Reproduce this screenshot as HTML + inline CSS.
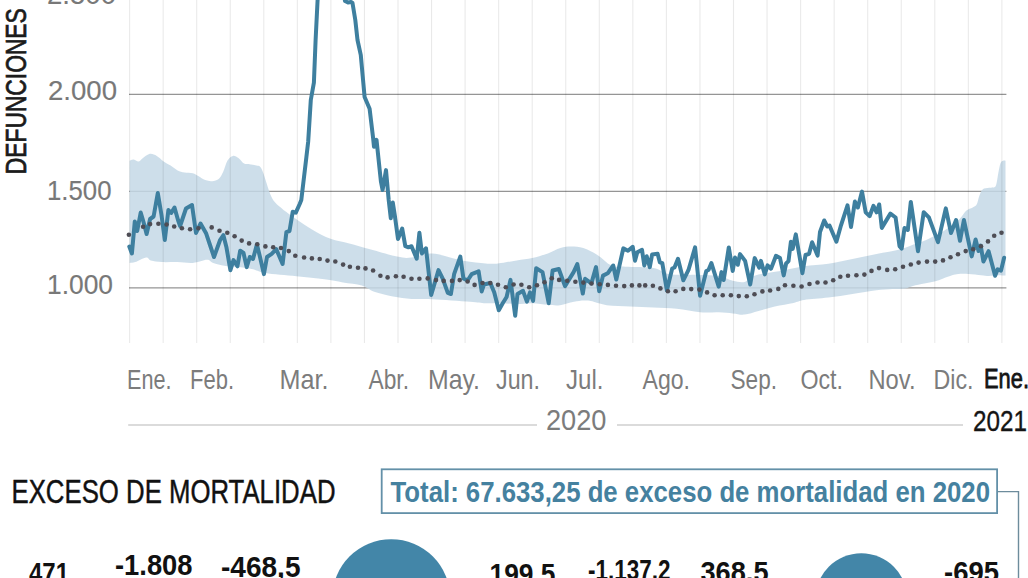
<!DOCTYPE html>
<html><head><meta charset="utf-8"><style>
html,body{margin:0;padding:0;background:#fff;width:1028px;height:578px;overflow:hidden}
svg{position:absolute;left:0;top:0;display:block}
text{font-family:"Liberation Sans",sans-serif}
</style></head><body>
<svg width="1028" height="578" viewBox="0 0 1028 578">
<g stroke="#959595" stroke-width="1.25"><line x1="129" y1="-1.3" x2="1006.4" y2="-1.3" /><line x1="129" y1="94.4" x2="1006.4" y2="94.4" /><line x1="129" y1="191.4" x2="1006.4" y2="191.4" /><line x1="129" y1="287.8" x2="1006.4" y2="287.8" /></g>
<path d="M129.60,160.70 C130.22,160.48 131.77,159.28 133.30,159.40 C134.83,159.52 137.18,161.63 138.80,161.40 C140.42,161.17 141.15,159.27 143.00,158.00 C144.85,156.73 147.60,154.15 149.90,153.80 C152.20,153.45 154.50,154.63 156.80,155.90 C159.10,157.17 161.40,159.78 163.70,161.40 C166.00,163.02 168.28,164.10 170.60,165.60 C172.92,167.10 175.28,169.25 177.60,170.40 C179.92,171.55 181.97,172.03 184.50,172.50 C187.03,172.97 190.50,172.62 192.80,173.20 C195.10,173.78 196.23,174.85 198.30,176.00 C200.37,177.15 202.90,179.23 205.20,180.10 C207.50,180.97 209.80,181.43 212.10,181.20 C214.40,180.97 217.15,180.27 219.00,178.70 C220.85,177.13 221.80,174.80 223.20,171.80 C224.60,168.80 225.78,163.35 227.40,160.70 C229.02,158.05 231.07,156.35 232.90,155.90 C234.73,155.45 236.55,156.73 238.40,158.00 C240.25,159.27 242.15,162.47 244.00,163.50 C245.85,164.53 247.43,163.85 249.50,164.20 C251.57,164.55 254.32,164.68 256.40,165.60 C258.48,166.52 259.50,164.52 262.00,169.70 C264.50,174.88 268.27,190.38 271.40,196.70 C274.53,203.02 277.17,204.22 280.80,207.60 C284.43,210.98 288.00,213.37 293.20,217.00 C298.40,220.63 305.77,225.77 312.00,229.40 C318.23,233.03 324.38,236.45 330.60,238.80 C336.82,241.15 342.73,241.75 349.30,243.50 C355.87,245.25 362.05,247.12 370.00,249.30 C377.95,251.48 390.08,255.22 397.00,256.60 C403.92,257.98 405.62,258.12 411.50,257.60 C417.38,257.08 423.65,252.97 432.30,253.50 C440.95,254.03 454.52,259.13 463.40,260.80 C472.28,262.47 479.83,263.05 485.60,263.50 C491.37,263.95 492.82,264.02 498.00,263.50 C503.18,262.98 510.98,261.32 516.70,260.40 C522.42,259.48 527.10,259.17 532.30,258.00 C537.50,256.83 543.22,255.08 547.90,253.40 C552.58,251.72 556.50,249.07 560.40,247.90 C564.30,246.73 567.48,246.38 571.30,246.40 C575.12,246.42 578.95,246.57 583.30,248.00 C587.65,249.43 592.72,252.08 597.40,255.00 C602.08,257.92 606.73,263.55 611.40,265.50 C616.07,267.45 618.40,266.30 625.40,266.70 C632.40,267.10 646.40,266.73 653.40,267.90 C660.40,269.07 662.35,272.53 667.40,273.70 C672.45,274.87 678.25,274.70 683.70,274.90 C689.15,275.10 694.25,274.72 700.10,274.90 C705.95,275.08 713.35,275.03 718.80,276.00 C724.25,276.97 728.52,279.72 732.80,280.70 C737.08,281.68 741.00,282.68 744.50,281.90 C748.00,281.12 749.53,277.57 753.80,276.00 C758.07,274.43 765.05,273.47 770.10,272.50 C775.15,271.53 778.43,271.25 784.10,270.20 C789.77,269.15 796.73,267.27 804.10,266.20 C811.47,265.13 820.25,265.00 828.30,263.80 C836.35,262.60 844.37,260.62 852.40,259.00 C860.43,257.38 868.47,255.72 876.50,254.10 C884.53,252.48 894.02,251.07 900.60,249.30 C907.18,247.53 911.93,244.97 916.00,243.50 C920.07,242.03 921.12,242.15 925.00,240.50 C928.88,238.85 935.47,235.68 939.30,233.60 C943.13,231.52 944.62,230.43 948.00,228.00 C951.38,225.57 956.58,221.87 959.60,219.00 C962.62,216.13 963.92,212.72 966.10,210.80 C968.28,208.88 970.92,208.60 972.70,207.50 C974.48,206.40 975.70,206.12 976.80,204.20 C977.90,202.28 978.33,198.47 979.30,196.00 C980.27,193.53 980.97,190.77 982.60,189.40 C984.23,188.03 987.05,188.20 989.10,187.80 C991.15,187.40 993.62,187.97 994.90,187.00 C996.18,186.03 996.22,184.42 996.80,182.00 C997.38,179.58 997.77,175.65 998.40,172.50 C999.03,169.35 999.82,165.07 1000.60,163.10 C1001.38,161.13 1002.28,161.10 1003.10,160.70 C1003.92,160.30 1005.10,160.70 1005.50,160.70 L1005.50,275.50 C1004.18,275.45 1000.38,275.13 997.60,275.20 C994.82,275.27 991.53,275.90 988.80,275.90 C986.07,275.90 984.58,275.52 981.20,275.20 C977.82,274.88 972.30,274.20 968.50,274.00 C964.70,273.80 961.13,273.80 958.40,274.00 C955.67,274.20 954.63,274.47 952.10,275.20 C949.57,275.93 946.15,277.33 943.20,278.40 C940.25,279.47 937.55,280.75 934.40,281.60 C931.25,282.45 927.88,282.77 924.30,283.50 C920.72,284.23 916.07,285.17 912.90,286.00 C909.73,286.83 908.68,287.98 905.30,288.50 C901.92,289.02 897.40,288.80 892.60,289.10 C887.80,289.40 883.20,289.50 876.50,290.30 C869.80,291.10 860.43,292.68 852.40,293.90 C844.37,295.12 836.35,296.58 828.30,297.60 C820.25,298.62 809.90,299.12 804.10,300.00 C798.30,300.88 798.38,301.83 793.50,302.90 C788.62,303.97 780.63,305.05 774.80,306.40 C768.97,307.75 763.55,309.63 758.50,311.00 C753.45,312.37 748.78,314.20 744.50,314.60 C740.22,315.00 737.08,313.80 732.80,313.40 C728.52,313.00 724.25,312.40 718.80,312.20 C713.35,312.00 707.12,312.78 700.10,312.20 C693.08,311.62 684.48,309.47 676.70,308.70 C668.92,307.93 661.18,307.98 653.40,307.60 C645.62,307.22 637.78,306.80 630.00,306.40 C622.22,306.00 613.70,306.17 606.70,305.20 C599.70,304.23 593.45,301.18 588.00,300.60 C582.55,300.02 578.67,300.93 574.00,301.70 C569.33,302.47 564.35,304.68 560.00,305.20 C555.65,305.72 552.52,305.13 547.90,304.80 C543.28,304.47 537.50,303.33 532.30,303.20 C527.10,303.07 521.88,304.00 516.70,304.00 C511.52,304.00 506.38,303.33 501.20,303.20 C496.02,303.07 490.80,303.45 485.60,303.20 C480.40,302.95 478.88,302.37 470.00,301.70 C461.12,301.03 442.03,299.67 432.30,299.20 C422.57,298.73 418.15,299.37 411.60,298.90 C405.05,298.43 399.23,297.60 393.00,296.40 C386.77,295.20 379.40,293.52 374.20,291.70 C369.00,289.88 367.00,287.05 361.80,285.50 C356.60,283.95 349.23,283.43 343.00,282.40 C336.77,281.37 332.18,280.33 324.40,279.30 C316.62,278.27 306.17,277.25 296.30,276.20 C286.43,275.15 272.98,274.30 265.20,273.00 C257.42,271.70 256.18,269.57 249.60,268.40 C243.02,267.23 231.77,266.92 225.70,266.00 C219.63,265.08 216.32,263.93 213.20,262.90 C210.08,261.87 210.37,259.80 207.00,259.80 C203.63,259.80 197.93,262.52 193.00,262.90 C188.07,263.28 182.60,262.23 177.40,262.10 C172.20,261.97 166.22,262.37 161.80,262.10 C157.38,261.83 153.50,261.28 150.90,260.50 C148.30,259.72 148.80,257.13 146.20,257.40 C143.60,257.67 138.07,261.17 135.30,262.10 C132.53,263.03 130.55,262.85 129.60,263.00 Z" fill="#c4d8e6" fill-opacity="0.85"/>
<g stroke="#000" stroke-opacity="0.085" stroke-width="1.1"><line x1="129.60" y1="0" x2="129.60" y2="343" /><line x1="163.15" y1="0" x2="163.15" y2="343" /><line x1="196.70" y1="0" x2="196.70" y2="343" /><line x1="230.25" y1="0" x2="230.25" y2="343" /><line x1="263.80" y1="0" x2="263.80" y2="343" /><line x1="297.35" y1="0" x2="297.35" y2="343" /><line x1="330.90" y1="0" x2="330.90" y2="343" /><line x1="364.45" y1="0" x2="364.45" y2="343" /><line x1="398.00" y1="0" x2="398.00" y2="343" /><line x1="431.55" y1="0" x2="431.55" y2="343" /><line x1="465.10" y1="0" x2="465.10" y2="343" /><line x1="498.65" y1="0" x2="498.65" y2="343" /><line x1="532.20" y1="0" x2="532.20" y2="343" /><line x1="565.75" y1="0" x2="565.75" y2="343" /><line x1="599.30" y1="0" x2="599.30" y2="343" /><line x1="632.85" y1="0" x2="632.85" y2="343" /><line x1="666.40" y1="0" x2="666.40" y2="343" /><line x1="699.95" y1="0" x2="699.95" y2="343" /><line x1="733.50" y1="0" x2="733.50" y2="343" /><line x1="767.05" y1="0" x2="767.05" y2="343" /><line x1="800.60" y1="0" x2="800.60" y2="343" /><line x1="834.15" y1="0" x2="834.15" y2="343" /><line x1="867.70" y1="0" x2="867.70" y2="343" /><line x1="901.25" y1="0" x2="901.25" y2="343" /><line x1="934.80" y1="0" x2="934.80" y2="343" /><line x1="968.35" y1="0" x2="968.35" y2="343" /><line x1="1001.90" y1="0" x2="1001.90" y2="343" /></g>
<polyline points="129.3,246.5 131.9,253.5 134.8,221.5 137.2,231 140.7,212.5 143.5,222 146.6,234 150.1,219 153.6,216.5 157.8,193 161.5,215 164.8,240 168.4,210 171.2,213 174.5,207.5 178,220 180.1,226 186,208.5 192,205 196,233 200.5,223.5 206.2,233.6 210,245 214,257 220.2,239.8 223.4,235.2 226.5,247.6 230.4,270.2 233.5,260.1 237.4,266.3 240.2,250.7 243.5,253 246.7,267.1 249.8,257 253,259 256.9,244.5 260,257 263.9,274.1 267,257 271.7,253.9 276.3,249.2 282.6,264 286.4,232.1 289.5,231 292.7,211.8 295.8,212.6 299.7,204 301.3,200 306.4,157.1 308.2,141.5 310.8,100 313.9,82.7 315.6,40 317.6,0 318.6,-6 344,-6 345,1 348,2.5 351,2 352.5,3 355.3,20 357.5,40 360.8,55.2 362.7,76.1 364.6,97 369.6,108.7 373.1,138.1 374,146.7 376.5,139.8 380.9,181.4 382.6,190 386,170.1 388.7,200 390.8,218.2 392.8,202.6 394.9,216.1 398,239 402.2,228.6 405.3,246.2 408.4,247.3 411.5,246.2 416.7,258.7 419.4,232.7 421.9,253.5 426,248.3 431.2,295 438.5,270.1 442.6,278.4 447.8,292.9 450.9,294 454.1,274.2 460.3,256.6 463.4,278.4 467.6,280.5 471.7,274.2 478.6,271.3 481.7,291.5 484,284.5 490.3,283 494.2,292.3 498.8,310.2 502.7,303.2 506.6,297 510.5,279.9 515.2,315.7 517.5,293.9 523,290.8 526.9,301.7 530,292.3 533.1,300.9 536.2,268.2 542.5,272.1 548.7,303.2 552.6,270.5 558.8,269 565,286.1 573.6,272.1 577.3,264 582.8,293.6 585.1,278.8 591.4,283.4 596,267.1 599.2,291.2 603,275.6 607.7,273.3 613.2,265.5 616.3,279.5 623.3,248.4 628,250.7 632.7,246.8 635,260.8 637.3,252.3 642,249.9 644.3,265.5 646.7,256.2 649.8,267.1 652.1,254.6 657.6,253.8 659.9,262.4 662.3,263.2 666.9,290.4 672.2,268.5 674.5,267.5 678,258.8 683.3,280.3 688.4,270.2 695.1,247.4 700.1,295.7 706.3,271 708.5,270 711.4,263.1 718.7,286.7 721.5,272.1 723.7,280 728.8,247.4 732.7,271 735,257.5 737.8,264.8 740,254.1 745.1,260.9 750.2,284.5 754.7,258.1 759.2,267.6 760.9,260.9 764.8,274.4 767.6,265.4 771,268.7 776,255.8 780,258.1 783.7,275.4 786.1,263.5 788.5,261.1 790.9,241.7 792.7,248.9 795.8,234.4 802.4,273.2 805.5,255 809.1,253.8 812.1,242.3 817.6,255.6 820,232 824.2,220.5 827.3,226.5 829.5,225.5 836.4,241.7 841,225.3 847.5,205.3 851,227 854.9,201.6 857.9,207.5 862,191.6 865.7,212.3 869.6,216.2 873.5,205.8 876.6,212.3 879.2,204.5 881.8,227.9 890.4,213.6 895.6,217.5 899.5,246.1 901.7,248.6 904.5,228 907.8,230 910.8,201.9 918,251.2 923.7,212.3 928.9,217.4 938,242.1 945.8,208.4 951,233 956.1,220 960,240.8 963.9,220 971.7,256.4 975.6,239.5 978.5,251 980.7,245.5 983.4,261.5 988.6,251.2 995.1,275.8 997.7,269.3 1001,270.6 1004.1,257.7" fill="none" stroke="#3e7f9f" stroke-width="4" stroke-linejoin="round" stroke-linecap="round"/>
<g fill="#4e4d55"><circle cx="128.9" cy="234.7" r="2.3"/><circle cx="143.1" cy="226.8" r="2.3"/><circle cx="150.1" cy="224.1" r="2.3"/><circle cx="158.4" cy="223.8" r="2.3"/><circle cx="166.6" cy="224.5" r="2.3"/><circle cx="174.2" cy="226.5" r="2.3"/><circle cx="181.9" cy="228.2" r="2.3"/><circle cx="190.1" cy="229.2" r="2.3"/><circle cx="198.4" cy="228.2" r="2.3"/><circle cx="211.7" cy="227.4" r="2.3"/><circle cx="219.5" cy="230.8" r="2.3"/><circle cx="227.3" cy="232.8" r="2.3"/><circle cx="234.6" cy="236.3" r="2.3"/><circle cx="241.7" cy="240.6" r="2.3"/><circle cx="249.1" cy="243.4" r="2.3"/><circle cx="257.3" cy="244.2" r="2.3"/><circle cx="265.4" cy="246.4" r="2.3"/><circle cx="273.2" cy="247.3" r="2.3"/><circle cx="281" cy="248" r="2.3"/><circle cx="288.8" cy="251.1" r="2.3"/><circle cx="295.3" cy="255.7" r="2.3"/><circle cx="304.1" cy="257.5" r="2.3"/><circle cx="311.9" cy="258.4" r="2.3"/><circle cx="319.7" cy="259" r="2.3"/><circle cx="327.5" cy="260.6" r="2.3"/><circle cx="335.3" cy="261.5" r="2.3"/><circle cx="343.1" cy="264.6" r="2.3"/><circle cx="349.9" cy="266.8" r="2.3"/><circle cx="358" cy="267.8" r="2.3"/><circle cx="365.5" cy="268.4" r="2.3"/><circle cx="373.1" cy="270.5" r="2.3"/><circle cx="380.4" cy="275.7" r="2.3"/><circle cx="387.6" cy="277.4" r="2.3"/><circle cx="395.9" cy="276.3" r="2.3"/><circle cx="403.6" cy="276.7" r="2.3"/><circle cx="411.5" cy="278.8" r="2.3"/><circle cx="419.4" cy="278.8" r="2.3"/><circle cx="427.7" cy="278.4" r="2.3"/><circle cx="436" cy="280.1" r="2.3"/><circle cx="443.7" cy="280.9" r="2.3"/><circle cx="452" cy="280.9" r="2.3"/><circle cx="459.7" cy="280.1" r="2.3"/><circle cx="467.6" cy="281.5" r="2.3"/><circle cx="474.6" cy="284.9" r="2.3"/><circle cx="482.5" cy="283" r="2.3"/><circle cx="490.3" cy="283" r="2.3"/><circle cx="498" cy="284.8" r="2.3"/><circle cx="505.8" cy="287.3" r="2.3"/><circle cx="513.6" cy="284.5" r="2.3"/><circle cx="521.4" cy="284.8" r="2.3"/><circle cx="529.2" cy="287.3" r="2.3"/><circle cx="537" cy="285.3" r="2.3"/><circle cx="544.5" cy="282.2" r="2.3"/><circle cx="551.8" cy="278.3" r="2.3"/><circle cx="559.1" cy="279.9" r="2.3"/><circle cx="567.2" cy="280.7" r="2.3"/><circle cx="575.4" cy="281.8" r="2.3"/><circle cx="583.3" cy="282.6" r="2.3"/><circle cx="591.5" cy="283.5" r="2.3"/><circle cx="599.7" cy="284.2" r="2.3"/><circle cx="607.9" cy="284.9" r="2.3"/><circle cx="616" cy="285.8" r="2.3"/><circle cx="624.2" cy="286.1" r="2.3"/><circle cx="631.9" cy="285.4" r="2.3"/><circle cx="639.4" cy="285.4" r="2.3"/><circle cx="645.2" cy="285.4" r="2.3"/><circle cx="652.9" cy="285.8" r="2.3"/><circle cx="660.4" cy="288.4" r="2.3"/><circle cx="667.9" cy="291.2" r="2.3"/><circle cx="675.6" cy="291.2" r="2.3"/><circle cx="683.3" cy="288.9" r="2.3"/><circle cx="691.2" cy="289.1" r="2.3"/><circle cx="699.4" cy="289.6" r="2.3"/><circle cx="707.1" cy="292.4" r="2.3"/><circle cx="714.6" cy="295.2" r="2.3"/><circle cx="722.7" cy="295.2" r="2.3"/><circle cx="730.9" cy="295.2" r="2.3"/><circle cx="738.8" cy="296.1" r="2.3"/><circle cx="746.8" cy="296.3" r="2.3"/><circle cx="754.5" cy="294.2" r="2.3"/><circle cx="762.4" cy="291.4" r="2.3"/><circle cx="770.1" cy="290.5" r="2.3"/><circle cx="778.3" cy="288.9" r="2.3"/><circle cx="785" cy="285.2" r="2.3"/><circle cx="793.4" cy="285.8" r="2.3"/><circle cx="801.6" cy="286.5" r="2.3"/><circle cx="809.5" cy="284" r="2.3"/><circle cx="817.5" cy="282.5" r="2.3"/><circle cx="825.5" cy="282.5" r="2.3"/><circle cx="833.2" cy="280.3" r="2.3"/><circle cx="840.3" cy="276.7" r="2.3"/><circle cx="848" cy="275.7" r="2.3"/><circle cx="856.4" cy="275.3" r="2.3"/><circle cx="864.4" cy="274.6" r="2.3"/><circle cx="871.5" cy="270.9" r="2.3"/><circle cx="879" cy="268.1" r="2.3"/><circle cx="887.2" cy="269.9" r="2.3"/><circle cx="895.2" cy="269.2" r="2.3"/><circle cx="903" cy="266.8" r="2.3"/><circle cx="910.8" cy="264.5" r="2.3"/><circle cx="918.6" cy="262.6" r="2.3"/><circle cx="927" cy="261.6" r="2.3"/><circle cx="935.2" cy="261.6" r="2.3"/><circle cx="943" cy="260.4" r="2.3"/><circle cx="950.5" cy="257.3" r="2.3"/><circle cx="958" cy="254.2" r="2.3"/><circle cx="965.7" cy="251.1" r="2.3"/><circle cx="973.2" cy="249.2" r="2.3"/><circle cx="981" cy="246.2" r="2.3"/><circle cx="988" cy="241.4" r="2.3"/><circle cx="994.2" cy="235.8" r="2.3"/><circle cx="1001.5" cy="232.7" r="2.3"/></g>
<text x="47.00" y="3.50" font-size="27" font-weight="normal" fill="#787878" stroke="#787878" stroke-width="0.15" textLength="69.00" lengthAdjust="spacingAndGlyphs">2.500</text><text x="48.00" y="100.00" font-size="27" font-weight="normal" fill="#787878" stroke="#787878" stroke-width="0.15" textLength="69.00" lengthAdjust="spacingAndGlyphs">2.000</text><text x="47.00" y="199.50" font-size="27" font-weight="normal" fill="#787878" stroke="#787878" stroke-width="0.15" textLength="64.50" lengthAdjust="spacingAndGlyphs">1.500</text><text x="47.00" y="294.00" font-size="27" font-weight="normal" fill="#787878" stroke="#787878" stroke-width="0.15" textLength="66.00" lengthAdjust="spacingAndGlyphs">1.000</text><text x="127.00" y="389.00" font-size="28" font-weight="normal" fill="#7c7c7c" textLength="44.50" lengthAdjust="spacingAndGlyphs">Ene.</text><text x="190.00" y="389.00" font-size="28" font-weight="normal" fill="#7c7c7c" textLength="44.00" lengthAdjust="spacingAndGlyphs">Feb.</text><text x="279.50" y="389.00" font-size="28" font-weight="normal" fill="#7c7c7c" textLength="49.00" lengthAdjust="spacingAndGlyphs">Mar.</text><text x="368.50" y="389.00" font-size="28" font-weight="normal" fill="#7c7c7c" textLength="40.50" lengthAdjust="spacingAndGlyphs">Abr.</text><text x="428.00" y="388.60" font-size="28" font-weight="normal" fill="#7c7c7c" textLength="52.00" lengthAdjust="spacingAndGlyphs">May.</text><text x="496.00" y="389.00" font-size="28" font-weight="normal" fill="#7c7c7c" textLength="44.00" lengthAdjust="spacingAndGlyphs">Jun.</text><text x="566.00" y="389.00" font-size="28" font-weight="normal" fill="#7c7c7c" textLength="37.50" lengthAdjust="spacingAndGlyphs">Jul.</text><text x="642.50" y="388.60" font-size="28" font-weight="normal" fill="#7c7c7c" textLength="47.50" lengthAdjust="spacingAndGlyphs">Ago.</text><text x="730.50" y="388.60" font-size="28" font-weight="normal" fill="#7c7c7c" textLength="46.50" lengthAdjust="spacingAndGlyphs">Sep.</text><text x="800.50" y="389.00" font-size="28" font-weight="normal" fill="#7c7c7c" textLength="42.50" lengthAdjust="spacingAndGlyphs">Oct.</text><text x="868.50" y="389.00" font-size="28" font-weight="normal" fill="#7c7c7c" textLength="47.00" lengthAdjust="spacingAndGlyphs">Nov.</text><text x="933.50" y="389.00" font-size="28" font-weight="normal" fill="#7c7c7c" textLength="40.00" lengthAdjust="spacingAndGlyphs">Dic.</text><text x="984.00" y="388.00" font-size="28.4" font-weight="normal" fill="#151515" stroke="#151515" stroke-width="0.8" textLength="45.00" lengthAdjust="spacingAndGlyphs">Ene.</text><text x="546.00" y="430.00" font-size="30" font-weight="normal" fill="#7c7c7c" textLength="60.50" lengthAdjust="spacingAndGlyphs">2020</text><text x="973.00" y="430.50" font-size="30" font-weight="normal" fill="#151515" stroke="#151515" stroke-width="0.35" textLength="54.00" lengthAdjust="spacingAndGlyphs">2021</text><text x="11.50" y="503.00" font-size="32.8" font-weight="normal" fill="#111111" stroke="#111111" stroke-width="0.45" textLength="324.00" lengthAdjust="spacingAndGlyphs">EXCESO DE MORTALIDAD</text><text x="390.50" y="501.80" font-size="29" font-weight="bold" fill="#45819f" textLength="599.50" lengthAdjust="spacingAndGlyphs">Total: 67.633,25 de exceso de mortalidad en 2020</text><text x="29.00" y="582.52" font-size="28.6" font-weight="bold" fill="#111111" textLength="40.00" lengthAdjust="spacingAndGlyphs">471</text><text x="115.00" y="574.52" font-size="28.6" font-weight="bold" fill="#111111" textLength="77.50" lengthAdjust="spacingAndGlyphs">-1.808</text><text x="221.00" y="576.52" font-size="28.6" font-weight="bold" fill="#111111" textLength="79.50" lengthAdjust="spacingAndGlyphs">-468,5</text><text x="489.50" y="584.02" font-size="28.6" font-weight="bold" fill="#111111" textLength="66.00" lengthAdjust="spacingAndGlyphs">199,5</text><text x="588.00" y="579.52" font-size="28.6" font-weight="bold" fill="#111111" textLength="82.50" lengthAdjust="spacingAndGlyphs">-1.137,2</text><text x="700.50" y="582.02" font-size="28.6" font-weight="bold" fill="#111111" textLength="68.00" lengthAdjust="spacingAndGlyphs">368,5</text><text x="944.00" y="582.02" font-size="28.6" font-weight="bold" fill="#111111" textLength="55.00" lengthAdjust="spacingAndGlyphs">-695</text>
<text transform="translate(25.6,174.2) rotate(-90)" font-size="29" fill="#1b1b1b" stroke="#1b1b1b" stroke-width="0.7" textLength="166" lengthAdjust="spacingAndGlyphs">DEFUNCIONES</text>
<g stroke="#cfcfcf" stroke-width="1.5"><line x1="128.2" y1="425" x2="537" y2="425"/><line x1="617" y1="425" x2="963" y2="425"/></g>
<rect x="381.7" y="469.3" width="615.4" height="43.8" fill="none" stroke="#6390a8" stroke-width="1.8"/>
<polyline points="997.7,491.6 1018.5,491.6 1018.5,580" fill="none" stroke="#6d8c9c" stroke-width="1.4"/>
<circle cx="391.2" cy="598.3" r="59" fill="#4386a8"/>
<circle cx="861.3" cy="599.3" r="46" fill="#4386a8"/>
</svg>
</body></html>
